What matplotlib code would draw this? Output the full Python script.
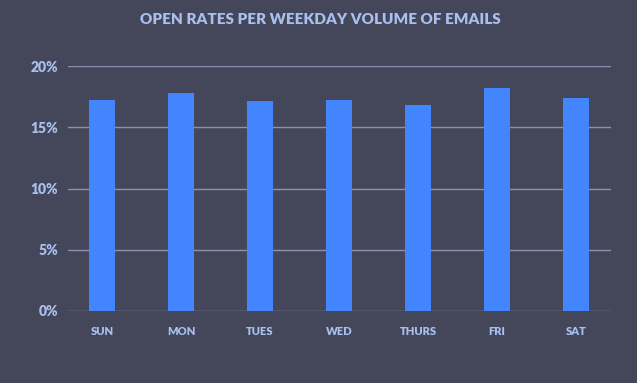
import matplotlib
matplotlib.use("Agg")
import matplotlib.pyplot as plt

days = ["SUN", "MON", "TUES", "WED", "THURS", "FRI", "SAT"]
open_rates = [17.2, 17.8, 17.15, 17.25, 16.8, 18.2, 17.4]
y_ticks = [0, 5, 10, 15, 20]
y_labels = ["0%", "5%", "10%", "15%", "20%"]

bg = "#44465a"
bar_color = "#4285fc"
text_color = "#a9c0ee"
grid_color = "#8a90ae"

plt.rcParams["font.family"] = "Lato"

fig = plt.figure(figsize=(6.37, 3.83), dpi=100, facecolor=bg)
ax = fig.add_axes([68 / 637, 1 - 311 / 383, 543 / 637, 245 / 383])
ax.set_facecolor(bg)

x = list(range(len(days)))
ax.bar(x, open_rates, width=0.33, color=bar_color, zorder=3)

ax.set_ylim(0, 20)
ax.set_xlim(-0.43, 6.44)
ax.set_yticks(y_ticks)
ax.set_yticklabels(y_labels, fontweight="heavy", fontsize=10)
ax.set_xticks(x)
ax.set_xticklabels(days, fontweight="heavy", fontsize=8)

ax.grid(axis="y", color=grid_color, linewidth=1.0, zorder=0)
for s in ax.spines.values():
    s.set_visible(False)
ax.tick_params(axis="both", length=0, colors=text_color)
ax.tick_params(axis="y", pad=7)
ax.tick_params(axis="x", pad=11)

fig.text(320 / 637, 1 - 20 / 383, "OPEN RATES PER WEEKDAY VOLUME OF EMAILS",
         ha="center", va="center", color=text_color, fontsize=11, fontweight="heavy")

fig.savefig("out.png", dpi=100, facecolor=bg)
